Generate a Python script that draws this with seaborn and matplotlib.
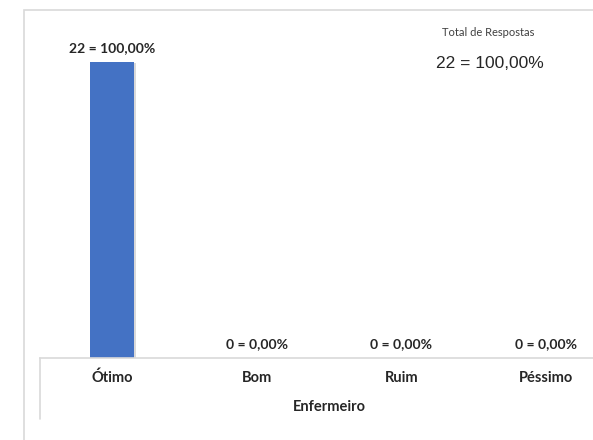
import matplotlib
matplotlib.use("Agg")
import matplotlib.pyplot as plt
import matplotlib.patches as mpatches
import matplotlib.patheffects as pe
import seaborn as sns
import pandas as pd

categories = ["Ótimo", "Bom", "Ruim", "Péssimo"]
counts = [22, 0, 0, 0]
x_title = "Enfermeiro"
total_title = "Total de Respostas"

total = sum(counts)
pcts = [c / total * 100 for c in counts]
labels = [f"{c} = {p:.2f}%".replace(".", ",") for c, p in zip(counts, pcts)]
total_label = f"{total} = {100:.2f}%".replace(".", ",")

sns.set_theme(style="white")
plt.rcParams["font.family"] = ["Lato", "DejaVu Sans"]

W, H = 593, 440
fig = plt.figure(figsize=(W / 100, H / 100), dpi=100)
fig.patch.set_facecolor("white")

# outer frame
fig.patches.append(mpatches.Rectangle((24 / W, -0.1), 1.2, (H - 10) / H + 0.1,
                                      transform=fig.transFigure, fill=False,
                                      edgecolor="#d9d9d9", linewidth=1.2))

ax = fig.add_axes([39.7 / W, (H - 358) / H, 578.7 / W, 348 / H])
df = pd.DataFrame({"cat": categories, "n": counts})
sns.barplot(data=df, x="cat", y="n", color="#4472C4", saturation=1,
            width=0.31, linewidth=0, ax=ax)
for p in ax.patches:
    p.set_linewidth(0)
    p.set_path_effects([pe.SimplePatchShadow(offset=(1.2, -1), shadow_rgbFace="#000000",
                                             alpha=0.15), pe.Normal()])

ax.set_xlim(-0.5, 3.5)
ax.set_ylim(0, 22 * 348 / 296)
ax.bar_label(ax.containers[0], labels=labels, padding=6, fontsize=10,
             fontweight="bold", color="#262626")

for s in ["top", "right", "left"]:
    ax.spines[s].set_visible(False)
ax.spines["bottom"].set_color("#d9d9d9")
ax.spines["bottom"].set_linewidth(1.2)
ax.axvline(-0.5, ymin=-(419 - 358) / 348, ymax=0, color="#d9d9d9",
           linewidth=1.2, clip_on=False)

ax.set_yticks([])
ax.set_ylabel("")
ax.tick_params(axis="x", length=0, pad=9, labelsize=10.5, labelcolor="#262626")
for t in ax.get_xticklabels():
    t.set_fontweight("bold")
ax.set_xlabel(x_title, fontsize=10.5, fontweight="bold", color="#262626", labelpad=11)

fig.text(488 / W, 1 - 33 / H, total_title, ha="center", va="center",
         fontsize=8, color="#404040", family=["Lato", "DejaVu Sans"])
fig.text(490 / W, 1 - 63 / H, total_label, ha="center", va="center",
         fontsize=12.5, color="#262626", family=["Liberation Sans", "DejaVu Sans"])

fig.savefig("out.png", dpi=100)
